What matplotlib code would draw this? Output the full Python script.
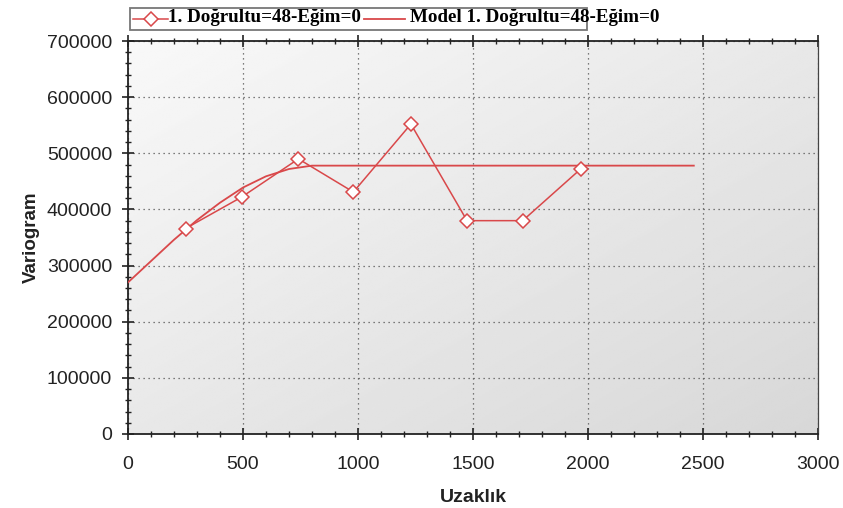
import numpy as np
import matplotlib
matplotlib.use('Agg')
import matplotlib.pyplot as plt
from matplotlib.ticker import MultipleLocator
from matplotlib.lines import Line2D
from matplotlib.patches import Rectangle

lag = [250, 494, 741, 980, 1230, 1474, 1716, 1968]
gamma = [366000, 422000, 490000, 431000, 552000, 380000, 380000, 472000]

# fitted model curve, read at a few distances
model_lag = [0, 100, 200, 300, 400, 500, 600, 700, 800, 2460]
model_gamma = [270000, 308000, 346000, 381000, 412000, 439000, 459000, 472000, 478000, 478000]

label_exp = '1. Doğrultu=48-Eğim=0'
label_model = 'Model 1. Doğrultu=48-Eğim=0'

red = '#d9484a'
W, H = 843, 508

fig = plt.figure(figsize=(W / 100, H / 100), dpi=100)
ax = fig.add_axes([128 / W, 1 - 434 / H, 690 / W, 393 / H])

# grey gradient background, light top-left to darker bottom-right
gx, gy = np.meshgrid(np.linspace(0, 1, 200), np.linspace(0, 1, 200))
shade = 0.975 - 0.13 * (0.5 * gx + 0.5 * gy)
ax.imshow(shade, cmap='gray', vmin=0, vmax=1, extent=[0, 1, 0, 1],
          transform=ax.transAxes, aspect='auto', zorder=0, origin='upper')

ax.plot(model_lag, model_gamma, color=red, lw=1.3, zorder=3)
ax.plot(lag, gamma, color=red, lw=1.1, marker='D', markersize=7,
        markerfacecolor='white', markeredgecolor=red, markeredgewidth=1.1, zorder=4)

ax.set_xlim(0, 3000)
ax.set_ylim(0, 700000)
ax.xaxis.set_major_locator(MultipleLocator(500))
ax.xaxis.set_minor_locator(MultipleLocator(100))
ax.yaxis.set_major_locator(MultipleLocator(100000))
ax.yaxis.set_minor_locator(MultipleLocator(20000))

ax.grid(True, which='major', color='#555555', linestyle=(0, (1, 3)), lw=0.9, zorder=1)
ax.set_axisbelow(True)

ax.tick_params(which='major', direction='inout', length=9, width=1.2, color='#222222',
               labelsize=14, top=True, bottom=True, left=True, right=False)
ax.tick_params(which='minor', direction='inout', length=5, width=1.0, color='#222222',
               top=True, bottom=True, left=True, right=False)
ax.tick_params(axis='x', which='both', labeltop=False, pad=11)
ax.tick_params(axis='y', which='major', pad=7)
for t in ax.get_xticklabels() + ax.get_yticklabels():
    t.set_family('Liberation Sans')
    t.set_color('#222222')

for s in ['left', 'bottom', 'top']:
    ax.spines[s].set_color('#222222')
    ax.spines[s].set_linewidth(1.3)
ax.spines['right'].set_color('#444444')
ax.spines['right'].set_linewidth(0.9)

ax.set_xlabel('Uzaklık', fontsize=14, fontweight='bold', family='Liberation Sans',
              color='#222222', labelpad=12)
ax.set_ylabel('Variogram', fontsize=13.5, fontweight='bold', family='Liberation Sans',
              color='#222222', labelpad=5)

# legend strip above the plot, drawn by hand (text runs past the box like the original)
def fx(px):
    return px / W

def fy(py):
    return 1 - py / H

fig.add_artist(Rectangle((fx(130), fy(30)), fx(587) - fx(130), fy(8) - fy(30),
                         transform=fig.transFigure, facecolor='white',
                         edgecolor='#777777', lw=1.3, zorder=5))
fig.add_artist(Line2D([fx(133), fx(168)], [fy(19), fy(19)], transform=fig.transFigure,
                      color=red, lw=1.1, zorder=6))
fig.add_artist(Line2D([fx(151)], [fy(19)], transform=fig.transFigure, color=red,
                      marker='D', markersize=7, markerfacecolor='white',
                      markeredgecolor=red, markeredgewidth=1.1, zorder=7))
fig.add_artist(Line2D([fx(364), fx(405)], [fy(19), fy(19)], transform=fig.transFigure,
                      color=red, lw=1.3, zorder=6))
leg_font = {'family': 'Liberation Serif', 'weight': 'bold', 'size': 13.7}
fig.text(fx(168), fy(18), label_exp, ha='left', va='center', zorder=8, **leg_font)
fig.text(fx(410), fy(18), label_model, ha='left', va='center', zorder=8, **leg_font)

fig.savefig('out.png', dpi=100)
